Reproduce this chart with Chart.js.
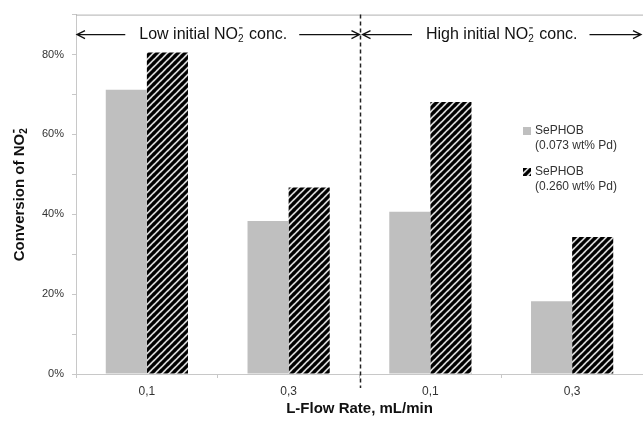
<!DOCTYPE html>
<html lang="en">
<head>
  <meta charset="UTF-8" />
  <title>Conversion of NO2- vs L-Flow Rate</title>
  <style>
    body { margin:0; background:#fff; }
    #wrap { width:643px; height:423px; }
    canvas { display:block; }
  </style>
</head>
<body>
  <div id="wrap"><canvas id="chart" width="643" height="423"></canvas></div>

  <script src="https://cdn.jsdelivr.net/npm/chart.js"></script>
  <script>
  // data
  const categories = ['0,1', '0,3', '0,1', '0,3'];
  const lowPd  = [71.2, 38.3, 40.6, 18.2];   // SePHOB (0.073 wt% Pd)
  const highPd = [80.5, 46.7, 68.1, 34.3];   // SePHOB (0.260 wt% Pd)
  const legendLines = [['SePHOB', '(0.073 wt% Pd)'], ['SePHOB', '(0.260 wt% Pd)']];
  const regionText = ['Low initial NO', 'High initial NO'];
  const yMax = 90, yStep = 10;

  const FONT = '"Liberation Sans", Arial, sans-serif';
  const GRAY = '#bfbfbf';

  // diagonal hatch for the second series
  function makeHatch() {
    const s = 7;
    const c = document.createElement('canvas');
    c.width = c.height = s;
    const g = c.getContext('2d');
    g.fillStyle = '#d8d8d8';
    g.fillRect(0, 0, s, s);
    g.strokeStyle = '#000';
    g.lineWidth = 3.2;
    g.beginPath();
    g.moveTo(-1, s + 1); g.lineTo(s + 1, -1);
    g.moveTo(-1, 1); g.lineTo(1, -1);
    g.moveTo(s - 1, s + 1); g.lineTo(s + 1, s - 1);
    g.stroke();
    return g.createPattern(c, 'repeat');
  }
  const ctx = document.getElementById('chart').getContext('2d');
  const hatch = makeHatch();

  // text with a subscript "2" and superscript "-" (NO2-)
  function drawChem(g, cx, cy, pre, post, size, bold) {
    const w = bold ? 'bold ' : '';
    const big = w + size + 'px ' + FONT;
    const small = w + Math.round(size * 0.65) + 'px ' + FONT;
    g.font = big;
    const w1 = g.measureText(pre).width, w3 = g.measureText(post).width;
    g.font = small;
    const w2 = g.measureText('2').width + 1;
    const total = w1 + w2 + w3;
    let x = cx - total / 2;
    g.textBaseline = 'middle';
    g.textAlign = 'left';
    g.font = big;  g.fillText(pre, x, cy); x += w1;
    g.font = small;
    g.fillText('2', x, cy + size * 0.3);
    // superscript minus
    g.save();
    g.strokeStyle = g.fillStyle;
    g.lineWidth = bold ? 1.6 : 1.1;
    g.beginPath();
    g.moveTo(x + 1, cy - size * 0.42);
    g.lineTo(x + 1 + size * 0.22, cy - size * 0.42);
    g.stroke();
    g.restore();
    x += w2;
    g.font = big;  g.fillText(post, x, cy);
    return [cx - total / 2, cx + total / 2];
  }

  function arrow(g, x1, x2, y, headAt) {
    g.beginPath();
    g.moveTo(x1, y); g.lineTo(x2, y);
    const hx = headAt === 'left' ? x1 : x2;
    const d = headAt === 'left' ? 8 : -8;
    g.moveTo(hx + d, y - 4); g.lineTo(hx, y); g.lineTo(hx + d, y + 4);
    g.stroke();
  }

  const extras = {
    id: 'extras',
    afterDraw(chart) {
      const g = chart.ctx, a = chart.chartArea;
      const xs = chart.scales.x;
      g.save();
      // top frame line
      g.strokeStyle = '#b0b0b0'; g.lineWidth = 1;
      g.beginPath(); g.moveTo(a.left, a.top + 0.5); g.lineTo(a.right, a.top + 0.5); g.stroke();

      // dashed divider between the two concentration regions
      const dx = Math.round(xs.getPixelForValue(1.5)) + 0.5;
      g.strokeStyle = '#222'; g.lineWidth = 1.5; g.setLineDash([4, 3]);
      g.beginPath(); g.moveTo(dx, a.top); g.lineTo(dx, a.bottom + 14); g.stroke();
      g.setLineDash([]);

      // region labels with arrows
      g.fillStyle = '#111'; g.strokeStyle = '#111'; g.lineWidth = 1.3;
      const ay = a.top + 20;
      const regions = [[a.left + 1, dx - 1], [dx + 2, a.right - 2]];
      regions.forEach((r, i) => {
        const c = (r[0] + r[1]) / 2 - (i === 0 ? 5 : 0);
        const [t0, t1] = drawChem(g, c, ay, regionText[i], ' conc.', 16, false);
        arrow(g, r[0], t0 - 14, ay, 'left');
        arrow(g, t1 + 12, r[1], ay, 'right');
      });

      // y axis title
      g.save();
      g.translate(20, (a.top + a.bottom) / 2);
      g.rotate(-Math.PI / 2);
      g.fillStyle = '#111';
      drawChem(g, 0, 0, 'Conversion of NO', '', 15, true);
      g.restore();

      // legend
      g.font = '12px ' + FONT;
      g.textBaseline = 'middle'; g.textAlign = 'left';
      const fills = [GRAY, hatch];
      const ly = [131, 172];
      legendLines.forEach((lines, i) => {
        g.fillStyle = fills[i];
        g.fillRect(523, ly[i] - 4, 8, 8);
        g.fillStyle = '#333';
        g.fillText(lines[0], 535, ly[i]);
        g.fillText(lines[1], 535, ly[i] + 15);
      });
      g.restore();
    }
  };

  new Chart(ctx, {
    type: 'bar',
    data: {
      labels: categories,
      datasets: [
        { label: legendLines[0].join(' '), data: lowPd, backgroundColor: GRAY, borderWidth: 0 },
        { label: legendLines[1].join(' '), data: highPd, backgroundColor: hatch, borderWidth: 0 }
      ]
    },
    options: {
      responsive: false,
      animation: false,
      devicePixelRatio: 1,
      layout: { padding: { top: 13, right: 0, left: 0, bottom: 0 } },
      datasets: { bar: { categoryPercentage: 0.58, barPercentage: 1.0 } },
      plugins: { legend: { display: false }, tooltip: { enabled: false } },
      scales: {
        x: {
          grid: { drawOnChartArea: false, color: '#c8c8c8', tickLength: 4 },
          border: { color: '#c8c8c8' },
          ticks: { color: '#333', font: { family: FONT, size: 12 }, padding: 6 },
          title: {
            display: true, text: 'L-Flow Rate, mL/min', color: '#111',
            font: { family: FONT, size: 15, weight: 'bold' }, padding: { top: 0, bottom: 5 }
          },
          afterFit(s) { s.height = 49; }
        },
        y: {
          min: 0, max: yMax,
          grid: { drawOnChartArea: false, color: '#c8c8c8', tickLength: 4 },
          border: { color: '#c8c8c8' },
          ticks: {
            stepSize: yStep, color: '#333', padding: 8,
            font: { family: FONT, size: 11 },
            callback: v => (v % 20 === 0 ? v + '%' : '')
          },
          afterFit(s) { s.width = 76; }
        }
      }
    },
    plugins: [extras]
  });
  </script>
</body>
</html>
